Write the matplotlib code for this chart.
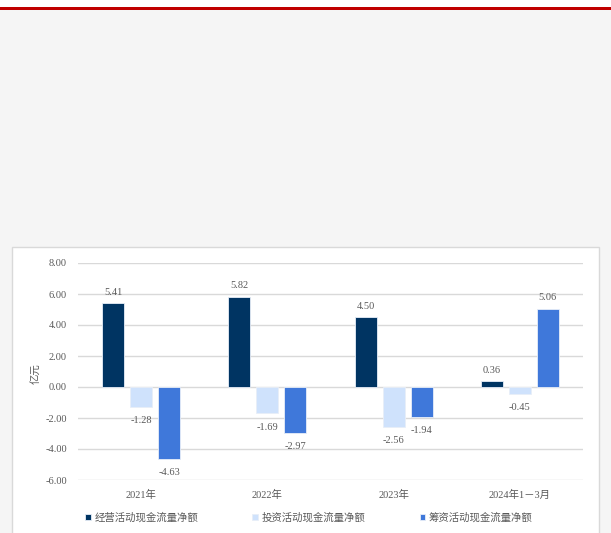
import matplotlib
matplotlib.use("Agg")
import matplotlib.pyplot as plt
from matplotlib.patches import Rectangle
import numpy as np

plt.rcParams['font.family'] = ['Liberation Serif', 'Noto Sans CJK SC', 'DejaVu Sans']

categories = ["2021年", "2022年", "2023年", "2024年1－3月"]
series_names = ["经营活动现金流量净额", "投资活动现金流量净额", "筹资活动现金流量净额"]
operating = [5.41, 5.82, 4.50, 0.36]
investing = [-1.28, -1.69, -2.56, -0.45]
financing = [-4.63, -2.97, -1.94, 5.06]
y_ticks = [8, 6, 4, 2, 0, -2, -4, -6]
y_unit = "亿元"

colors = ["#003462", "#cfe2fc", "#3f78da"]
text_color = "#595959"

W, H = 611, 533
fig = plt.figure(figsize=(W / 100, H / 100), dpi=100)
fig.patch.set_facecolor("white")

# page background, red rule and white chart card
fig.patches.append(Rectangle((0, 0), 1, (H - 9) / H, transform=fig.transFigure,
                             facecolor="#f5f5f5", edgecolor="none", zorder=-3))
fig.patches.append(Rectangle((0, (H - 10) / H), 1, 2.5 / H, transform=fig.transFigure,
                             facecolor="#c00000", edgecolor="none", zorder=-2))
fig.patches.append(Rectangle((12 / W, -0.02), (599 - 12) / W, (H - 247) / H + 0.02,
                             transform=fig.transFigure, facecolor="white",
                             edgecolor="#d9d9d9", linewidth=1.0, zorder=-1))

ax = fig.add_axes([78 / W, (H - 480) / H, (583 - 78) / W, (480 - 263) / H])
ax.set_facecolor("none")

x = np.arange(len(categories))
bw = 22 / 126.25
step = 28 / 126.25
all_series = [operating, investing, financing]
for i, (vals, c, name) in enumerate(zip(all_series, colors, series_names)):
    pos = x + (i - 1) * step
    ax.bar(pos, vals, width=bw, color=c, edgecolor="#e8eef8", linewidth=0.6,
           label=name, zorder=3)
    for xp, v in zip(pos, vals):
        off = 8 if v >= 0 else -10
        ax.annotate(f"{v:.2f}", (xp, v), xytext=(0, off), textcoords="offset points",
                    ha="center", va="center", fontsize=7.5, color=text_color, zorder=4)

ax.set_xlim(-0.5, len(categories) - 0.5)
ax.set_ylim(-6, 8)
ax.set_yticks(y_ticks)
ax.set_yticklabels([f"{t:.2f}" for t in y_ticks])
ax.set_xticks(x)
ax.set_xticklabels(categories)
ax.yaxis.grid(True, color="#d9d9d9", linewidth=1.0, zorder=0)
ax.tick_params(axis="both", length=0, labelsize=7.5, labelcolor=text_color)
ax.tick_params(axis="y", pad=8)
ax.tick_params(axis="x", pad=7)
for s in ax.spines.values():
    s.set_visible(False)

ax.set_ylabel(y_unit, fontsize=7.5, color=text_color)
ax.yaxis.set_label_coords((42 - 78) / 505, 0.49)

leg = ax.legend(loc="upper left", bbox_to_anchor=(85 / W, (H - 512) / H),
                bbox_transform=fig.transFigure, ncol=3, frameon=False,
                fontsize=7.5, handlelength=0.55, handleheight=0.55,
                handletextpad=0.35, columnspacing=5.2, borderaxespad=0, borderpad=0)
for t in leg.get_texts():
    t.set_color(text_color)

fig.savefig("out.png", dpi=100)
